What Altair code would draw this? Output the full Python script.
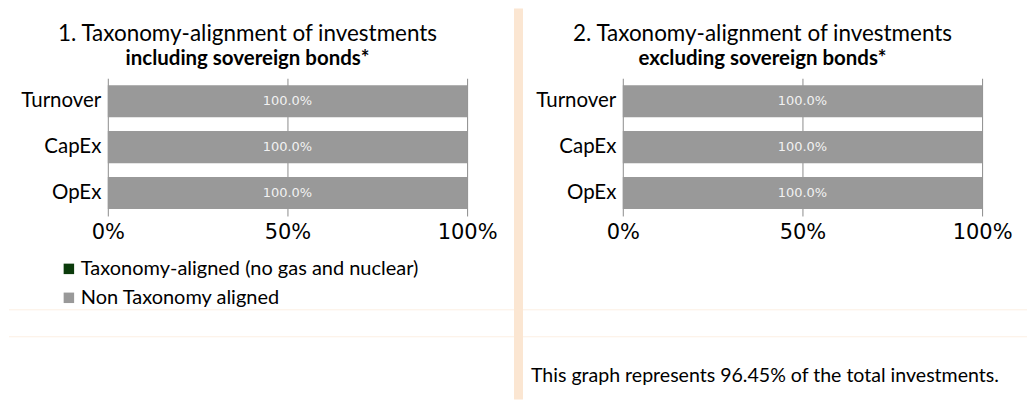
import altair as alt
import pandas as pd

categories = ["Turnover", "CapEx", "OpEx"]
series = ["Taxonomy-aligned (no gas and nuclear)", "Non Taxonomy aligned"]
series_colors = ["#0B3B0B", "#999999"]

incl_aligned = [0.0, 0.0, 0.0]
incl_non_aligned = [1.0, 1.0, 1.0]
excl_aligned = [0.0, 0.0, 0.0]
excl_non_aligned = [1.0, 1.0, 1.0]

titles_line1 = ["1. Taxonomy-alignment of investments", "2. Taxonomy-alignment of investments"]
titles_line2 = ["including sovereign bonds*", "excluding sovereign bonds*"]
footnotes = ["", "This graph represents 96.45% of the total investments."]
x_ticks = [0, 0.5, 1]

PEACH = "#FBE6D2"
FAINT = "#FCEFE3"
TEXT_FONT = "Lato"
NUM_FONT = "DejaVu Sans"
W, H = 360, 138


def make_df(aligned, non_aligned):
    rows = []
    for i, c in enumerate(categories):
        rows.append({"cat": c, "series": series[0], "value": aligned[i], "ord": 0})
        rows.append({"cat": c, "series": series[1], "value": non_aligned[i], "ord": 1})
    return pd.DataFrame(rows)


def panel(idx, aligned, non_aligned):
    df = make_df(aligned, non_aligned)
    base = alt.Chart(df)
    yenc = alt.Y(
        "cat:N",
        sort=categories,
        scale=alt.Scale(paddingInner=0.3, paddingOuter=0.15),
        axis=alt.Axis(
            title=None, labelFont=TEXT_FONT, labelFontSize=20.5, labelColor="black",
            ticks=False, domain=False, labelPadding=7, grid=False,
        ),
    )
    xscale = alt.Scale(domain=[0, 1], nice=False)
    bars = base.mark_bar().encode(
        y=yenc,
        x=alt.X(
            "value:Q", stack="zero", scale=xscale,
            axis=alt.Axis(
                title=None, format=".0%", values=x_ticks, ticks=False, domain=False,
                grid=True, gridColor="#8C8C8C", gridOpacity=1, gridWidth=1,
                labelFont=NUM_FONT, labelFontSize=21, labelColor="black",
                labelFlush=False, labelPadding=6, labelOverlap=False,
            ),
        ),
        color=alt.Color(
            "series:N",
            scale=alt.Scale(domain=series, range=series_colors),
            legend=alt.Legend(
                orient="none", legendX=-49, legendY=181, direction="vertical",
                title=None, symbolType="square", symbolSize=110, symbolStrokeWidth=0,
                labelFont=TEXT_FONT, labelFontSize=20, labelColor="black",
                rowPadding=9, labelOffset=2, labelLimit=600,
            ),
        ),
        order=alt.Order("ord:Q"),
    )
    labels = (
        base.transform_stack(
            stack="value", groupby=["cat"], as_=["x0", "x1"],
            sort=[alt.SortField("ord")],
        )
        .transform_calculate(mid="(datum.x0 + datum.x1) / 2")
        .transform_filter("datum.value > 0")
        .mark_text(color="#F2F2F2", font=NUM_FONT, fontSize=13)
        .encode(
            y=alt.Y("cat:N", sort=categories),
            x=alt.X("mid:Q", scale=xscale),
            text=alt.Text("value:Q", format=".1%"),
        )
    )
    left = -99 if idx == 0 else -100
    right = 407 if idx == 0 else 405
    faint = alt.Chart(pd.DataFrame({"k": [0]})).mark_rule(color=FAINT, strokeWidth=1)
    layers = [bars, labels]
    for yy in (232, 259):
        layers.append(faint.encode(x=alt.value(left), x2=alt.value(right), y=alt.value(yy)))
    if footnotes[idx]:
        note = alt.Chart(pd.DataFrame({"t": [footnotes[idx]]})).mark_text(
            font=TEXT_FONT, fontSize=19.6, color="black", align="left", baseline="alphabetic"
        ).encode(text="t:N", x=alt.value(-92), y=alt.value(304))
        layers.append(note)
    return alt.layer(*layers).properties(
        width=W, height=H,
        title=alt.TitleParams(
            text=titles_line1[idx], subtitle=titles_line2[idx],
            font=TEXT_FONT, fontSize=22.5, fontWeight="normal", color="black",
            subtitleFont=TEXT_FONT, subtitleFontSize=20.5, subtitleFontWeight="bold",
            subtitleColor="black", anchor="middle", frame="group", dx=-40,
            offset=9, subtitlePadding=3,
        ),
    )


divider = alt.Chart(pd.DataFrame({"k": [0]})).mark_rect(color=PEACH).encode(
    x=alt.value(47), x2=alt.value(56), y=alt.value(-70), y2=alt.value(322)
).properties(width=156, height=H)

chart = (
    alt.hconcat(
        panel(0, incl_aligned, incl_non_aligned),
        divider,
        panel(1, excl_aligned, excl_non_aligned),
        spacing=0,
        bounds="flush",
    )
    .resolve_scale(color="shared")
    .properties(background="white", padding=0)
    .configure_view(stroke=None)
)

chart.save("out.html", embed_options={"renderer": "svg", "actions": False})
